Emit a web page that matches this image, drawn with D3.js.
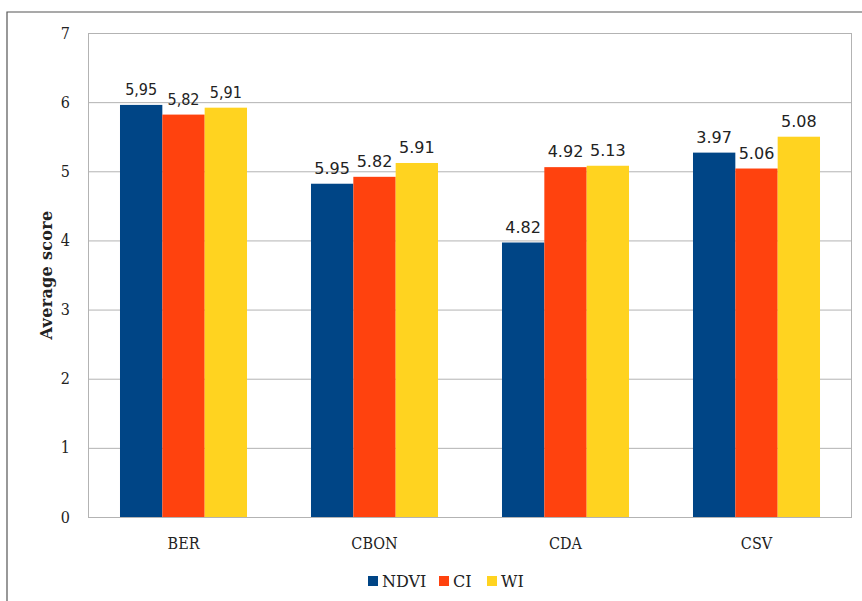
<!DOCTYPE html>
<html><head><meta charset="utf-8">
<script src="https://cdn.jsdelivr.net/npm/d3@7"></script>
<style>body{margin:0;background:#fff}svg{display:block}</style>
</head><body>
<svg id="c" width="862" height="601"></svg>
<script>
const categories = ["BER", "CBON", "CDA", "CSV"];
const seriesNames = ["NDVI", "CI", "WI"];
const ndvi = [5.96, 4.82, 3.97, 5.27];
const ci = [5.82, 4.92, 5.06, 5.04];
const wi = [5.92, 5.12, 5.08, 5.50];
const ndviLabels = ["5,95", "5.95", "4.82", "3.97"];
const ciLabels = ["5,82", "5.82", "4.92", "5.06"];
const wiLabels = ["5,91", "5.91", "5.13", "5.08"];
const yTicks = [0, 1, 2, 3, 4, 5, 6, 7];
const colors = ["#004586", "#ff420e", "#ffd320"];

const series = [ndvi, ci, wi];
const labels = [ndviLabels, ciLabels, wiLabels];

const svg = d3.select("#c");
const L = 88, R = 852, T = 33, B = 517;
const serif = "DejaVu Serif Condensed, Liberation Serif, serif";

// outer frame
svg.append("path").attr("d", "M7,601 V12 H862").attr("fill", "none").attr("stroke", "#555").attr("stroke-width", 1.2);

const x0 = d3.scaleBand().domain(categories).range([L, R]).paddingInner(0.335).paddingOuter(0.1675);
const x1 = d3.scaleBand().domain(seriesNames).range([0, x0.bandwidth()]);
const y = d3.scaleLinear().domain([0, 7]).range([B, T]);

// grid
svg.append("g").selectAll("line").data(yTicks).join("line")
  .attr("x1", L).attr("x2", R).attr("y1", d => y(d) + 0.5).attr("y2", d => y(d) + 0.5)
  .attr("stroke", "#b3b3b3").attr("stroke-width", 1);
svg.append("line").attr("x1", L + 0.5).attr("x2", L + 0.5).attr("y1", T).attr("y2", B).attr("stroke", "#b3b3b3");
svg.append("line").attr("x1", R - 0.5).attr("x2", R - 0.5).attr("y1", T).attr("y2", B).attr("stroke", "#b3b3b3");

// y axis labels
const yAxis = d3.axisLeft(y).tickValues(yTicks).tickSize(0).tickPadding(18).tickFormat(d3.format("d"));
const ya = svg.append("g").attr("transform", `translate(${L},0)`).call(yAxis);
ya.select(".domain").remove();
ya.selectAll("text").attr("font-family", serif).attr("font-size", 16).attr("fill", "#222");

// x axis labels
const xAxis = d3.axisBottom(x0).tickSize(0).tickPadding(21);
const xa = svg.append("g").attr("transform", `translate(0,${B})`).call(xAxis);
xa.select(".domain").remove();
xa.selectAll("text").attr("font-family", serif).attr("font-size", 16).attr("fill", "#222");

// bars
const g = svg.append("g");
series.forEach((vals, si) => {
  g.append("g").selectAll("rect").data(vals).join("rect")
    .attr("x", (d, i) => x0(categories[i]) + x1(seriesNames[si]))
    .attr("width", x1.bandwidth())
    .attr("y", d => y(d))
    .attr("height", d => y(0) - y(d))
    .attr("fill", colors[si]);
  g.append("g").selectAll("text").data(vals).join("text")
    .attr("x", (d, i) => x0(categories[i]) + x1(seriesNames[si]) + x1.bandwidth() / 2)
    .attr("y", d => y(d) - 10)
    .attr("text-anchor", "middle")
    .attr("font-family", (d, i) => i === 0 ? "DejaVu Sans Condensed, DejaVu Sans, sans-serif" : "DejaVu Sans, sans-serif")
    .attr("font-size", 16).attr("fill", "#222")
    .text((d, i) => labels[si][i]);
});

// y axis title
svg.append("text").attr("transform", "translate(52,275) rotate(-90)")
  .attr("text-anchor", "middle").attr("font-family", "DejaVu Serif, Liberation Serif, serif")
  .attr("font-weight", "bold").attr("font-size", 16).attr("letter-spacing", 0.3)
  .attr("fill", "#222").text("Average score");

// legend
const legX = [368, 439, 487];
const lg = svg.append("g");
seriesNames.forEach((n, i) => {
  lg.append("rect").attr("x", legX[i]).attr("y", 576).attr("width", 10).attr("height", 10).attr("fill", colors[i]);
  lg.append("text").attr("x", legX[i] + 14).attr("y", 587)
    .attr("font-family", "DejaVu Serif, Liberation Serif, serif")
    .attr("font-size", 16).attr("fill", "#222").text(n);
});
</script>
</body></html>
